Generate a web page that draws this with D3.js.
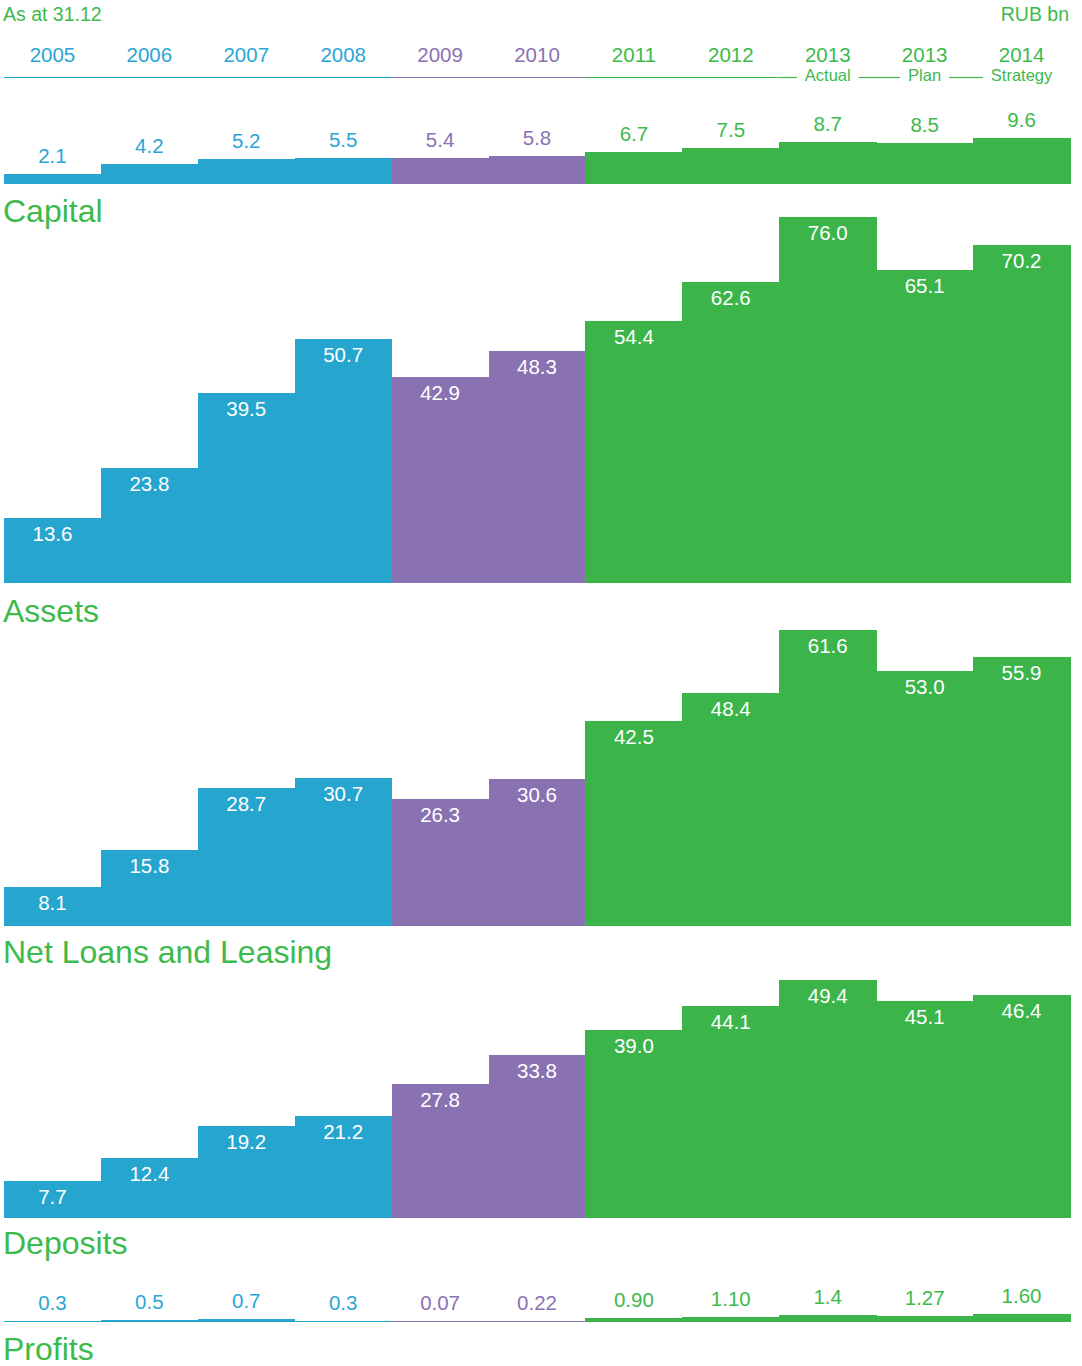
<!DOCTYPE html>
<html>
<head>
<meta charset="utf-8">
<script src="https://cdn.jsdelivr.net/npm/d3@7"></script>
<style>
  html, body { margin: 0; padding: 0; background: #fff; }
  svg { display: block; font-family: "Liberation Sans", Arial, Helvetica, sans-serif; }
</style>
</head>
<body>
<svg id="chart" width="1082" height="1366"></svg>
<script>
// Column headings
const years     = ["2005", "2006", "2007", "2008", "2009", "2010", "2011", "2012", "2013", "2013", "2014"];
const subLabels = ["", "", "", "", "", "", "", "", "Actual", "Plan", "Strategy"];
const periods   = ["pre", "pre", "pre", "pre", "crisis", "crisis", "post", "post", "post", "post", "post"];

// Indicator values, RUB bn
const capital  = [2.1, 4.2, 5.2, 5.5, 5.4, 5.8, 6.7, 7.5, 8.7, 8.5, 9.6];
const assets   = [13.6, 23.8, 39.5, 50.7, 42.9, 48.3, 54.4, 62.6, 76.0, 65.1, 70.2];
const netLoans = [8.1, 15.8, 28.7, 30.7, 26.3, 30.6, 42.5, 48.4, 61.6, 53.0, 55.9];
const deposits = [7.7, 12.4, 19.2, 21.2, 27.8, 33.8, 39.0, 44.1, 49.4, 45.1, 46.4];
const profits  = [0.3, 0.5, 0.7, 0.3, 0.07, 0.22, 0.90, 1.10, 1.4, 1.27, 1.60];
const profitLabels = ["0.3", "0.5", "0.7", "0.3", "0.07", "0.22", "0.90", "1.10", "1.4", "1.27", "1.60"];

const fillColor = { pre: "#26a5cf", crisis: "#8971b2", post: "#3bb54a" };
const textColor = { pre: "#2aa6d6", crisis: "#8a72b4", post: "#3dba4c" };
const titleColor = "#3dba4c";

const svg = d3.select("#chart");
const keys = years.map((y, i) => i);

const x = d3.scaleBand().domain(keys).range([4, 1070]).paddingInner(0).paddingOuter(0);
// Shared height scale: all panels use the same RUB bn -> px ratio
const h = d3.scaleLinear().domain([0, 80]).range([0, 385]);

// ---- Header ----
svg.append("text")
  .attr("x", 3).attr("y", 21)
  .attr("font-size", 19.5).attr("fill", titleColor)
  .text("As at 31.12");
svg.append("text")
  .attr("x", 1069).attr("y", 21)
  .attr("text-anchor", "end")
  .attr("font-size", 19.5).attr("fill", titleColor)
  .text("RUB bn");

const header = svg.append("g");
header.selectAll("text.year")
  .data(keys)
  .join("text")
  .attr("class", "year")
  .attr("x", i => x(i) + x.bandwidth() / 2)
  .attr("y", 62)
  .attr("text-anchor", "middle")
  .attr("font-size", 20.5)
  .attr("fill", i => textColor[periods[i]])
  .text(i => years[i]);

const subs = header.selectAll("text.sub")
  .data(keys.filter(i => subLabels[i]))
  .join("text")
  .attr("class", "sub")
  .attr("x", i => x(i) + x.bandwidth() / 2)
  .attr("y", 81)
  .attr("text-anchor", "middle")
  .attr("font-size", 16.5)
  .attr("fill", i => textColor[periods[i]])
  .text(i => subLabels[i]);

// Rule under the headings, coloured per column and broken around the sub-labels
const lineY = 77.5;
const gaps = [];
subs.each(function () {
  const b = this.getBBox();
  gaps.push([b.x - 8, b.x + b.width + 8]);
});
keys.forEach(i => {
  let segs = [[x(i), x(i) + x.bandwidth()]];
  gaps.forEach(([g0, g1]) => {
    const next = [];
    segs.forEach(([a, b]) => {
      if (g1 <= a || g0 >= b) { next.push([a, b]); return; }
      if (g0 > a) next.push([a, g0]);
      if (g1 < b) next.push([g1, b]);
    });
    segs = next;
  });
  // Rule stops after the last sub-label
  const lastGap = gaps[gaps.length - 1];
  segs = segs.filter(([a]) => a < lastGap[0]);
  segs.forEach(([a, b]) => {
    header.append("line")
      .attr("x1", a).attr("x2", b)
      .attr("y1", lineY).attr("y2", lineY)
      .attr("stroke", fillColor[periods[i]])
      .attr("stroke-width", 1.2);
  });
});

// ---- Panels ----
const panels = [
  { title: "Capital",               values: capital,  base: 184,  titleY: 222,  inside: false },
  { title: "Assets",                values: assets,   base: 583,  titleY: 622,  inside: true },
  { title: "Net Loans and Leasing", values: netLoans, base: 926,  titleY: 963,  inside: true },
  { title: "Deposits",              values: deposits, base: 1218, titleY: 1254, inside: true },
  { title: "Profits",               values: profits,  base: 1322, titleY: 1360, inside: false, labels: profitLabels }
];

panels.forEach(p => {
  const g = svg.append("g").attr("transform", `translate(0,${p.base})`);

  g.selectAll("rect")
    .data(keys)
    .join("rect")
    .attr("x", i => x(i))
    .attr("width", x.bandwidth() + 0.6)
    .attr("y", i => -Math.max(h(p.values[i]), 1))
    .attr("height", i => Math.max(h(p.values[i]), 1))
    .attr("shape-rendering", "crispEdges")
    .attr("fill", i => fillColor[periods[i]]);

  g.selectAll("text.val")
    .data(keys)
    .join("text")
    .attr("class", "val")
    .attr("x", i => x(i) + x.bandwidth() / 2)
    .attr("y", i => p.inside ? -h(p.values[i]) + 23 : -Math.max(h(p.values[i]), 1) - 11)
    .attr("text-anchor", "middle")
    .attr("font-size", 20.5)
    .attr("fill", i => p.inside ? "#ffffff" : textColor[periods[i]])
    .text(i => p.labels ? p.labels[i] : p.values[i].toFixed(1));

  svg.append("text")
    .attr("x", 3).attr("y", p.titleY)
    .attr("font-size", 32)
    .attr("fill", titleColor)
    .text(p.title);
});
</script>
</body>
</html>
